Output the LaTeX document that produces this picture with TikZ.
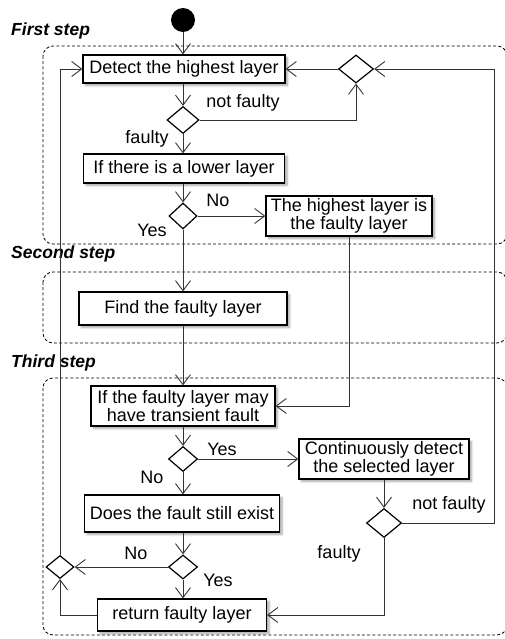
\documentclass[tikz,border=0pt]{standalone}
\usepackage{fontspec}
\setmainfont{Liberation Sans}
\usetikzlibrary{arrows.meta,shapes.geometric,shadows.blur}
\begin{document}
\begin{tikzpicture}[x=1pt,y=-1pt,
  font=\fontsize{18}{18.5}\selectfont,
  act/.style={draw=black, line width=1.2pt, fill=white, align=center, inner sep=0pt,
    blur shadow={shadow xshift=2.5pt, shadow yshift=-2.5pt, shadow blur steps=6, shadow opacity=35}},
  dec/.style={diamond, draw=black, line width=1.2pt, fill=white, inner sep=0pt},
  flow/.style={draw=black!80, line width=0.9pt, -{Straight Barb[length=10pt,width=15pt]}},
  group/.style={draw=black, line width=0.8pt, dash pattern=on 3pt off 2.2pt, rounded corners=10pt},
  steplabel/.style={font=\fontsize{17.5}{18}\selectfont\bfseries\itshape, anchor=west, inner sep=0pt},
  lbl/.style={inner sep=0pt}]
\useasboundingbox (0,0) rectangle (504,639);

% swimlane-like groups for the three steps
\draw[group] (43,46) rectangle (507,244);
\draw[group] (43,272) rectangle (507,343);
\draw[group] (43,378) rectangle (507,635);
\node[steplabel] (s1) at (11,31) {First step};
\node[steplabel] (s2) at (11,254) {Second step};
\node[steplabel] (s3) at (11,363) {Third step};

% activities and decisions
\node[circle, fill=black, minimum size=24pt, inner sep=0pt] (start) at (183,20) {};
\node[act, minimum width=202pt, minimum height=28pt] (detect) at (184,69) {Detect the highest layer};
\node[dec, minimum width=32pt, minimum height=27pt] (d1) at (183,120) {};
\node[dec, minimum width=35pt, minimum height=28pt] (d2) at (356,69) {};
\node[act, minimum width=201pt, minimum height=29pt] (lower) at (184,168.5) {If there is a lower layer};
\node[dec, minimum width=28pt, minimum height=26pt] (d3) at (183,216) {};
\node[act, minimum width=166pt, minimum height=40pt] (highest) at (349,216) {The highest layer is\\the faulty layer};
\node[act, minimum width=208pt, minimum height=33pt] (find) at (183,308.5) {Find the faulty layer};
\node[act, minimum width=184pt, minimum height=40pt] (transient) at (183,406) {If the faulty layer may\\have transient fault};
\node[dec, minimum width=29pt, minimum height=25pt] (d4) at (183,459) {};
\node[act, minimum width=170pt, minimum height=40pt] (cont) at (384,459) {Continuously detect\\the selected layer};
\node[dec, minimum width=35pt, minimum height=29pt] (d5) at (384,523) {};
\node[act, minimum width=195pt, minimum height=37pt] (exist) at (182,513.5) {Does the fault still exist};
\node[dec, minimum width=29pt, minimum height=24pt] (d6) at (183,567) {};
\node[dec, minimum width=28pt, minimum height=23pt] (d7) at (60,567) {};
\node[act, minimum width=169pt, minimum height=32pt] (ret) at (182,615) {return faulty layer};
\coordinate (rt) at (494,69);

% connectors
\draw[flow] (start) -- (start |- detect.north);
\draw[flow] (d1 |- detect.south) -- (d1);
\draw[flow] (d1.east) -| (d2.south);
\draw[flow] (d2.west) -- (detect.east);
\draw[flow] (d1) -- (d1 |- lower.north);
\draw[flow] (d3 |- lower.south) -- (d3);
\draw[flow] (d3.east) -- (highest.west);
\draw[flow] (d3) -- (d3 |- find.north);
\draw[flow] (highest.south) |- (transient.east);
\draw[flow] (find) -- (transient);
\draw[flow] (transient) -- (d4);
\draw[flow] (d4.east) -- (cont.west);
\draw[flow] (d4) -- (d4 |- exist.north);
\draw[flow] (cont) -- (d5);
\draw[flow] (d5.east) -| (rt) -- (d2.east);
\draw[flow] (d5.south) |- (ret.east);
\draw[flow] (d6 |- exist.south) -- (d6);
\draw[flow] (d6.west) -- (d7.east);
\draw[flow] (d6) -- (d6 |- ret.north);
\draw[flow] (ret.west) -| (d7.south);
\draw[flow] (d7.north) |- (detect.west);

% branch labels
\node[lbl] (l1) at (243,103) {not faulty};
\node[lbl] (l2) at (147,139) {faulty};
\node[lbl] (l3) at (218,200) {No};
\node[lbl] (l4) at (152,230) {Yes};
\node[lbl] (l5) at (222,449) {Yes};
\node[lbl] (l6) at (152,477) {No};
\node[lbl] (l7) at (449,505) {not faulty};
\node[lbl] (l8) at (339,554) {faulty};
\node[lbl] (l9) at (136,553) {No};
\node[lbl] (l10) at (218,580) {Yes};
\end{tikzpicture}
\end{document}
